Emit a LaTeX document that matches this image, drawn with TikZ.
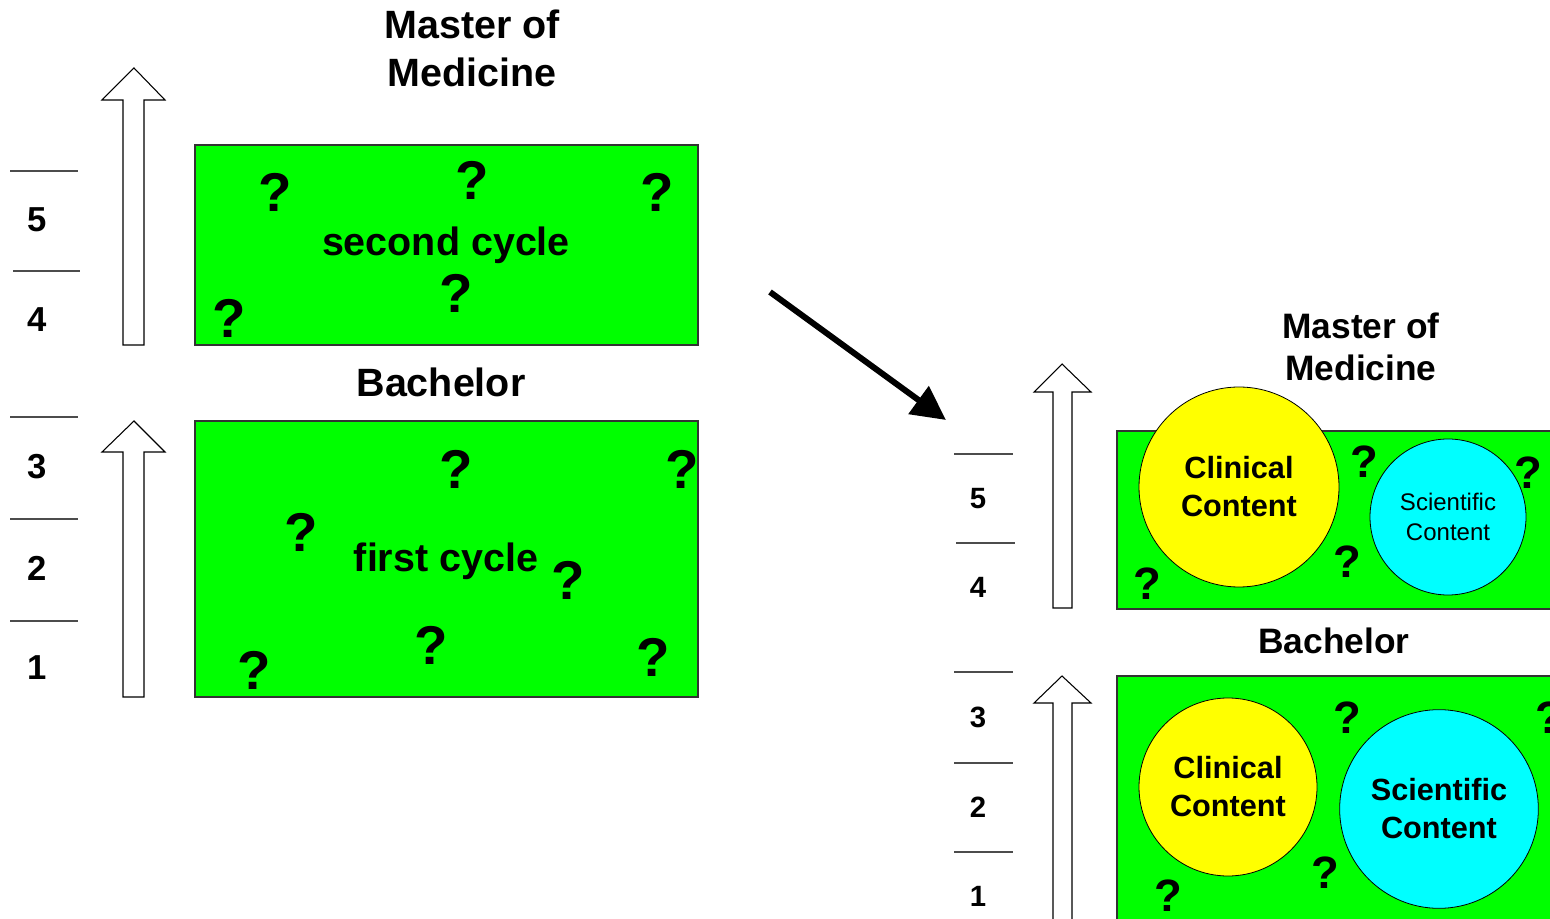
\documentclass[tikz,border=0pt]{standalone}
\usepackage{fontspec}
\setmainfont{Liberation Sans}
\usetikzlibrary{arrows.meta}
\tikzset{
  bigtitle/.style={font=\bfseries\fontsize{29.6}{36}\selectfont, inner sep=0pt, align=center},
  rtitle/.style={font=\bfseries\fontsize{26.5}{31.5}\selectfont, inner sep=0pt, align=center},
  qmark/.style={font=\bfseries\fontsize{41}{41}\selectfont, inner sep=0pt},
  rqmark/.style={font=\bfseries\fontsize{34}{34}\selectfont, inner sep=0pt},
  lnum/.style={font=\bfseries\fontsize{26}{26}\selectfont, inner sep=0pt},
  rnum/.style={font=\bfseries\fontsize{22}{22}\selectfont, inner sep=0pt},
  tickline/.style={draw=black!70, line width=0.8pt},
  greenbox/.style={draw=black!80, fill={rgb,255:red,0;green,255;blue,0}, line width=1pt},
  blockarr/.style={draw=black, fill=white, line width=0.8pt},
  bubble/.style={circle, draw=black, line width=0.6pt, inner sep=0pt, align=center},
  cctext/.style={font=\bfseries\fontsize{23}{28.5}\selectfont},
  sctext/.style={font=\fontsize{18}{22}\selectfont},
}
\definecolor{cyyellow}{RGB}{255,255,0}
\definecolor{cycyan}{RGB}{0,255,255}
\begin{document}
\begin{tikzpicture}[x=0.75pt,y=-0.75pt]
\useasboundingbox (0,0) rectangle (1550,919);
\clip (0,0) rectangle (1550,919);

% ---------- left part ----------
\node[bigtitle] (lmaster) at (472,48) {Master of\\Medicine};
\node[bigtitle] (lbach) at (441,382) {Bachelor};

\draw[blockarr] (123,345) -- (123,100) -- (102,100) -- (134,68) -- (165,100) -- (144,100) -- (144,345) -- cycle;
\draw[blockarr] (123,697) -- (123,452) -- (102,452) -- (134,421) -- (165,452) -- (144,452) -- (144,697) -- cycle;

\draw[tickline] (10,171) -- (78,171);
\draw[tickline] (13,271) -- (80,271);
\draw[tickline] (10,417) -- (78,417);
\draw[tickline] (10,519) -- (78,519);
\draw[tickline] (10,621) -- (78,621);
\node[lnum] (l5) at (37,220) {5};
\node[lnum] (l4) at (37,320) {4};
\node[lnum] (l3) at (37,467) {3};
\node[lnum] (l2) at (37,568) {2};
\node[lnum] (l1) at (37,668) {1};

\draw[greenbox] (195,145) rectangle (698,345);
\draw[greenbox] (195,421) rectangle (698,697);

\node[bigtitle] (second) at (446,245) {second cycle};
\node[qmark] (q1) at (275,192) {?};
\node[qmark] (q2) at (472,180) {?};
\node[qmark] (q3) at (657,192) {?};
\node[qmark] (q4) at (229,318) {?};
\node[qmark] (q5) at (456,293) {?};

\node[bigtitle] (first) at (446,561) {first cycle};
\node[qmark] (q6) at (456,469) {?};
\node[qmark] (q7) at (682,469) {?};
\node[qmark] (q8) at (301,532) {?};
\node[qmark] (q9) at (568,580) {?};
\node[qmark] (q10) at (431,645) {?};
\node[qmark] (q11) at (254,670) {?};
\node[qmark] (q12) at (653,657) {?};

% ---------- transition arrow ----------
\coordinate (astart) at (770,292);
\coordinate (aend) at (946,420);
\draw[line width=4.5pt, -{Triangle[length=25.5pt,width=25pt]}] (astart) -- (aend);

% ---------- right part ----------
\node[rtitle] (rmaster) at (1361,347) {Master of\\Medicine};
\node[rtitle] (rbach) at (1334,641) {Bachelor};

\draw[blockarr] (1053,608) -- (1053,392) -- (1034,392) -- (1062,364) -- (1091,392) -- (1072,392) -- (1072,608) -- cycle;
\draw[blockarr] (1053,940) -- (1053,703) -- (1034,703) -- (1062,676) -- (1091,703) -- (1072,703) -- (1072,940) -- cycle;

\draw[tickline] (954,454) -- (1013,454);
\draw[tickline] (956,543) -- (1015,543);
\draw[tickline] (954,672) -- (1013,672);
\draw[tickline] (954,763) -- (1013,763);
\draw[tickline] (954,852) -- (1013,852);
\node[rnum] (r5) at (978,499) {5};
\node[rnum] (r4) at (978,587) {4};
\node[rnum] (r3) at (978,717) {3};
\node[rnum] (r2) at (978,807) {2};
\node[rnum] (r1) at (978,896) {1};

\draw[greenbox] (1117,431) rectangle (1570,609);
\draw[greenbox] (1117,676) rectangle (1570,940);

\node[bubble, fill=cyyellow, minimum size=150pt, cctext] (ccup) at (1239,487) {Clinical\\Content};
\node[bubble, fill=cycyan, minimum size=117pt, sctext] (scup) at (1448,517) {Scientific\\Content};
\node[rqmark] (rq1) at (1364,462) {?};
\node[rqmark] (rq2) at (1528,473) {?};
\node[rqmark] (rq3) at (1347,562) {?};
\node[rqmark] (rq4) at (1147,584) {?};

\node[bubble, fill=cyyellow, minimum size=133.5pt, cctext] (cclow) at (1228,787) {Clinical\\Content};
\node[bubble, fill=cycyan, minimum size=149pt, cctext] (sclow) at (1439,809) {Scientific\\Content};
\node[rqmark] (rq5) at (1347,718) {?};
\node[rqmark] (rq6) at (1549,718) {?};
\node[rqmark] (rq7) at (1325,873) {?};
\node[rqmark] (rq8) at (1168,896) {?};
\end{tikzpicture}
\end{document}
